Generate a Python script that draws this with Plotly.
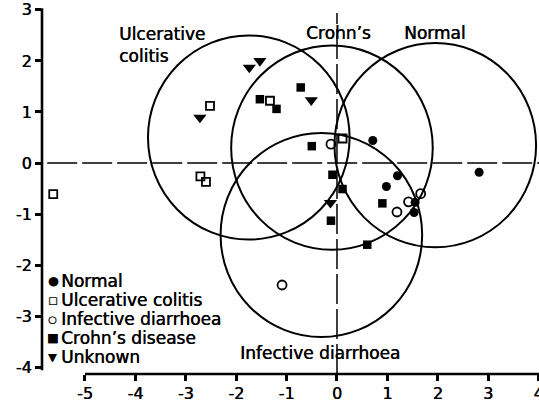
import plotly.graph_objects as go

# ---- data ----
normal_x = [0.71, 1.20, 0.98, 2.82, 1.53, 1.55]
normal_y = [0.44, -0.25, -0.46, -0.18, -0.97, -0.77]

uc_x = [-5.63, -2.52, -2.71, -2.60, -1.33, 0.11]
uc_y = [-0.61, 1.12, -0.26, -0.37, 1.22, 0.48]

id_x = [-0.12, 1.66, 1.42, 1.19, -1.09]
id_y = [0.37, -0.60, -0.76, -0.96, -2.39]

cd_x = [-1.53, -1.20, -0.72, -0.50, -0.09, 0.11, -0.12, 0.90, 0.60]
cd_y = [1.25, 1.06, 1.48, 0.33, -0.23, -0.51, -1.13, -0.79, -1.60]

unk_x = [-2.72, -1.74, -1.53, -0.51, -0.13]
unk_y = [0.89, 1.87, 2.00, 1.23, -0.78]

circle_names = ["Ulcerative colitis", "Crohn's", "Normal", "Infective diarrhoea"]
circle_cx = [-1.75, -0.10, 1.95, -0.31]
circle_cy = [0.50, 0.30, 0.35, -1.41]
circle_r = [2.0, 2.0, 2.0, 2.0]

x_ticks = [-5, -4, -3, -2, -1, 0, 1, 2, 3, 4]
x_ticklabels = ["-5", "-4", "-3", "-2", "-1", "0", "1", "2", "3", "4"]
y_ticks = [-4, -3, -2, -1, 0, 1, 2, 3]
y_ticklabels = ["-4", "-3", "-2", "-1", "0", "1", "2", "3"]

legend_names = ["Normal", "Ulcerative colitis", "Infective diarrhoea", "Crohn\u2019s disease", "Unknown"]
legend_glyphs = ["\u25cf", "\u25a1", "\u25cb", "\u25a0", "\u25bc"]

# ---- layout constants ----
FONT = "DejaVu Sans"
SHADOW = "0.45px 0 0 black"
XMIN, XMAX = -5.853, 4.008
YMIN, YMAX = -4.133, 3.115


def px_(x):
    return (x - XMIN) / (XMAX - XMIN)


def py_(y):
    return (y - YMIN) / (YMAX - YMIN)


fig = go.Figure()

series = [
    (normal_x, normal_y, "Normal", dict(symbol="circle", size=9, color="black")),
    (uc_x, uc_y, "Ulcerative colitis",
     dict(symbol="square-open", size=8, color="black", line=dict(width=1.8, color="black"))),
    (id_x, id_y, "Infective diarrhoea",
     dict(symbol="circle-open", size=9, color="black", line=dict(width=1.8, color="black"))),
    (cd_x, cd_y, "Crohn's disease", dict(symbol="square", size=8.5, color="black")),
    (unk_x, unk_y, "Unknown", dict(symbol="triangle-down", size=11.5, color="black")),
]
for xs, ys, name, mk in series:
    fig.add_trace(go.Scatter(x=xs, y=ys, mode="markers", name=name, marker=mk,
                             showlegend=False, cliponaxis=False))

shapes = []
# group circles
for cx, cy, r in zip(circle_cx, circle_cy, circle_r):
    shapes.append(dict(type="circle", xref="x", yref="y", x0=cx - r, x1=cx + r,
                       y0=cy - r, y1=cy + r, line=dict(color="black", width=2), layer="below"))
# dashed zero lines
shapes.append(dict(type="line", xref="x", yref="y", x0=-5.75, x1=XMAX, y0=0, y1=0,
                   line=dict(color="black", width=1.5, dash="30px,5px"), layer="below"))
shapes.append(dict(type="line", xref="x", yref="y", x0=0, x1=0, y0=YMIN, y1=2.94,
                   line=dict(color="black", width=1.5, dash="30px,5px"), layer="below"))
# offset spines
shapes.append(dict(type="line", xref="paper", yref="paper", x0=0, x1=0,
                   y0=py_(-4.06), y1=py_(3.03), line=dict(color="black", width=2.6)))
shapes.append(dict(type="line", xref="paper", yref="paper", x0=px_(-5), x1=1,
                   y0=0, y1=0, line=dict(color="black", width=2.6)))

annotations = []
lab_font = dict(family=FONT, size=17, color="black", shadow=SHADOW)
annotations.append(dict(x=-4.365, y=2.31, xref="x", yref="y", text="Ulcerative<br>colitis",
                        showarrow=False, xanchor="left", yanchor="middle", align="left",
                        font=lab_font))
annotations.append(dict(x=0.02, y=2.55, xref="x", yref="y", text="Crohn\u2019s",
                        showarrow=False, xanchor="center", yanchor="middle", font=lab_font))
annotations.append(dict(x=1.944, y=2.55, xref="x", yref="y", text="Normal",
                        showarrow=False, xanchor="center", yanchor="middle", font=lab_font))
annotations.append(dict(x=-1.964, y=-3.72, xref="x", yref="y", text="Infective diarrhoea",
                        showarrow=False, xanchor="left", yanchor="middle", font=lab_font))

# legend built from text
leg_y0 = -2.32
leg_dy = 0.37
glyph_sizes = [12, 10, 10, 12, 11]
for i, (g, nm) in enumerate(zip(legend_glyphs, legend_names)):
    yy = leg_y0 - i * leg_dy
    annotations.append(dict(x=-5.64, y=yy, xref="x", yref="y", text=g, showarrow=False,
                            xanchor="center", yanchor="middle",
                            font=dict(family=FONT, size=glyph_sizes[i], color="black",
                                      shadow=SHADOW)))
    annotations.append(dict(x=-5.52, y=yy, xref="x", yref="y", text=nm, showarrow=False,
                            xanchor="left", yanchor="middle", font=lab_font))

tick_font = dict(family=FONT, size=16, color="black", shadow=SHADOW)
fig.update_layout(
    width=539, height=403,
    margin=dict(l=42, r=0, t=4, b=29, autoexpand=False),
    paper_bgcolor="white", plot_bgcolor="white",
    showlegend=False,
    shapes=shapes,
    annotations=annotations,
    xaxis=dict(range=[XMIN, XMAX], tickvals=x_ticks, ticktext=x_ticklabels,
               ticks="outside", ticklen=6, tickwidth=2.5, tickcolor="black",
               ticklabeloverflow="allow", ticklabelstandoff=-1,
               showline=False, showgrid=False, zeroline=False, tickfont=tick_font),
    yaxis=dict(range=[YMIN, YMAX], tickvals=y_ticks, ticktext=y_ticklabels,
               ticks="outside", ticklen=6, tickwidth=2.5, tickcolor="black",
               ticklabeloverflow="allow",
               showline=False, showgrid=False, zeroline=False, tickfont=tick_font),
)

fig.write_html("out.html", config={"displayModeBar": False},
               post_script="document.body.style.margin='0';document.body.style.padding='0';"
                           "document.documentElement.style.overflow='hidden';")
